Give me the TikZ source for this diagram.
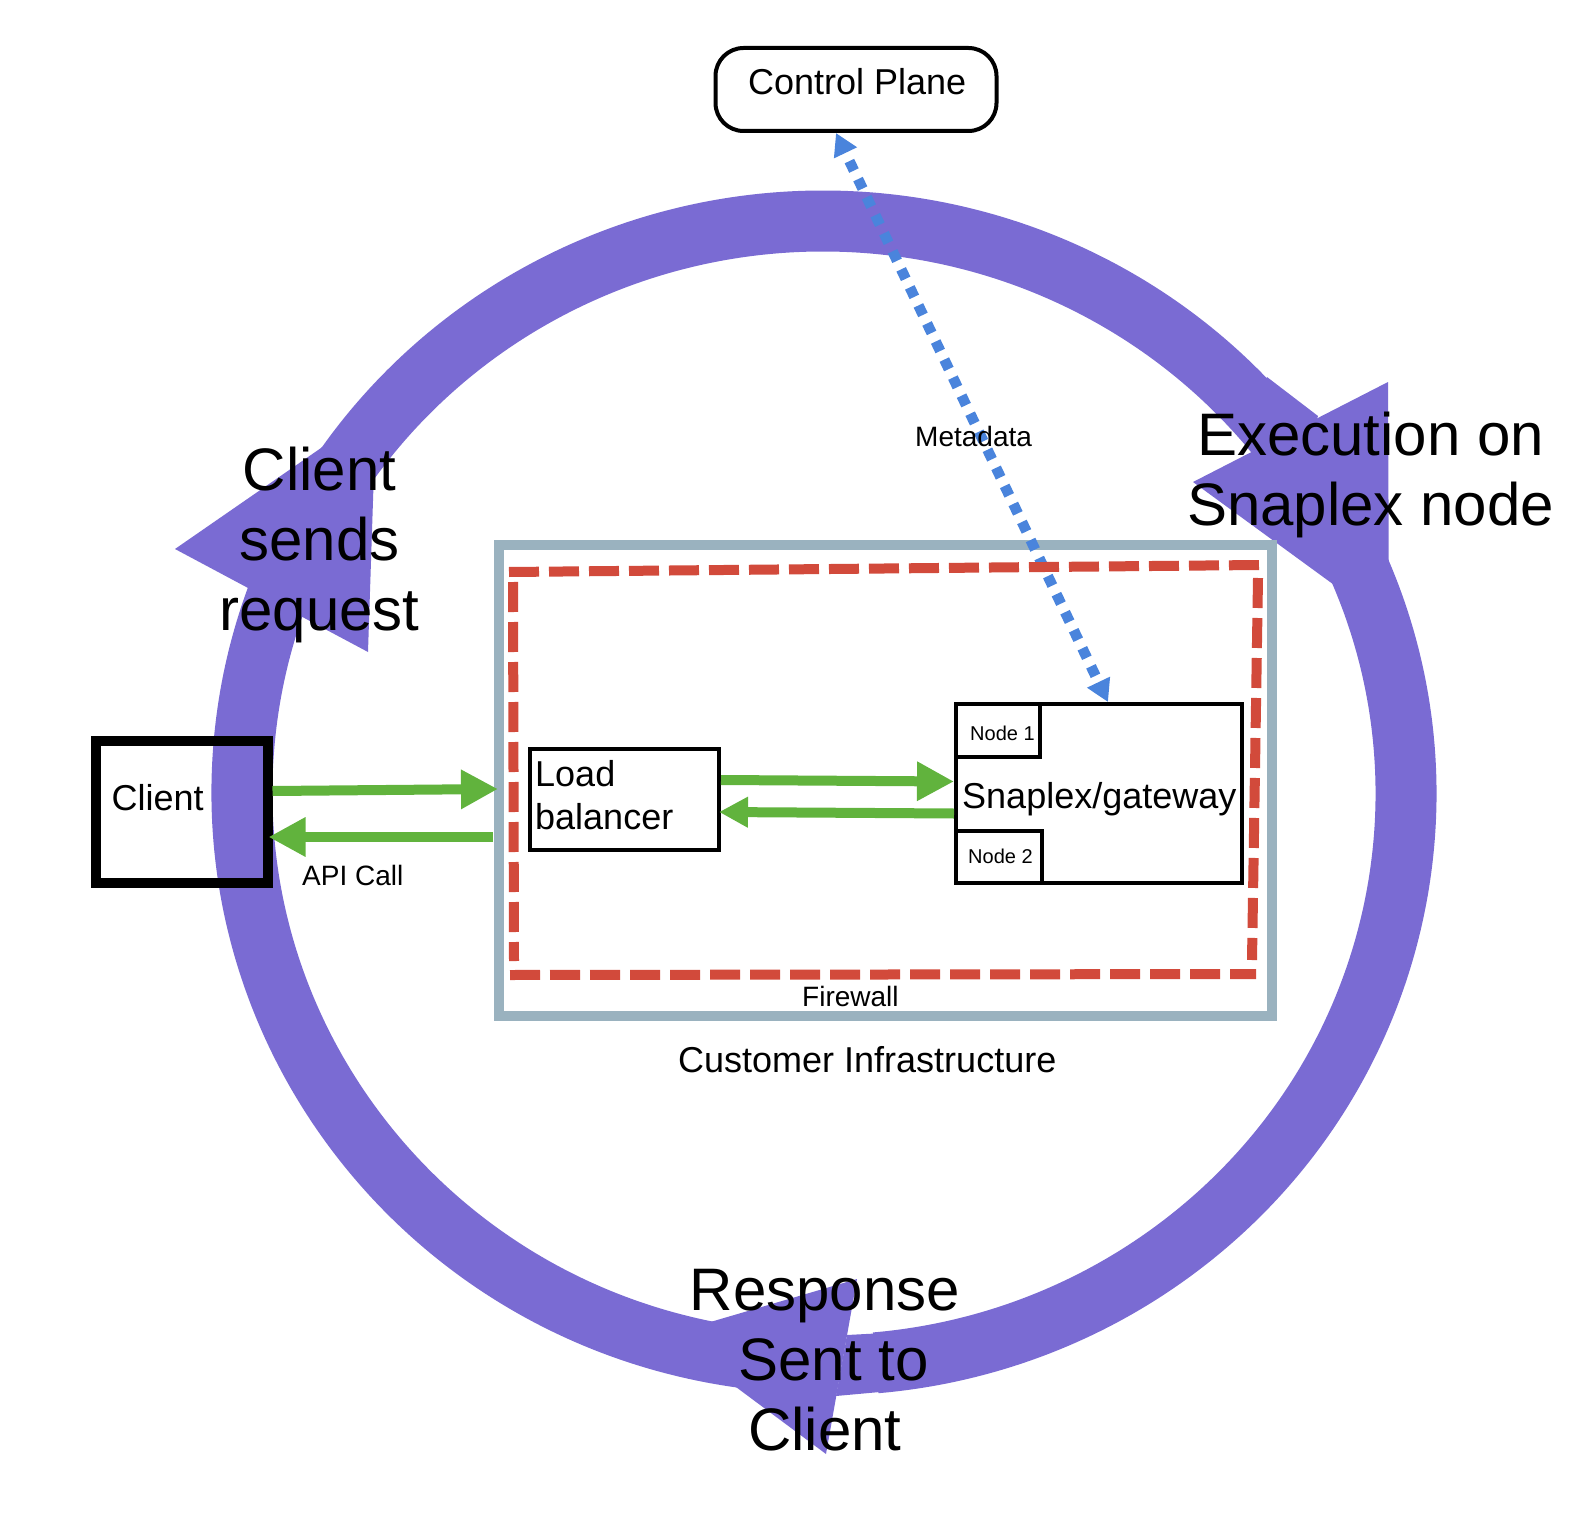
\documentclass[tikz,border=0pt]{standalone}
\usepackage{fontspec}
\setmainfont{Liberation Sans}
\usetikzlibrary{
    calc,
    arrows.meta
}
\definecolor{loopcol}{HTML}{7A6BD3}
\definecolor{flowcol}{HTML}{61B33D}
\definecolor{metacol}{HTML}{4A84DC}
\definecolor{wallcol}{HTML}{D24A3B}
\definecolor{infracol}{HTML}{9AB2BF}
\newcommand{\txtsize}[1]{\fontsize{#1}{#1}\selectfont}
\begin{document}
\begin{tikzpicture}[
            x=1pt, y=-1pt,
            box/.style={draw=black, line width=#1, rectangle, inner sep=0pt},
            box/.default=4pt,
            loop arc/.style={draw=loopcol, line width=61pt},
            loop head/.style={fill=loopcol, draw=none},
            flow/.style={draw=flowcol, line width=10pt, -{Triangle[length=#1, width=#1]}},
            flow/.default=37pt,
            wall/.style={draw=wallcol, line width=10pt, dash pattern=on 30pt off 10pt},
            small text/.style={inner sep=0pt, anchor=base west, font=\txtsize{28}},
            mid text/.style={inner sep=0pt, anchor=base west, font=\txtsize{36}},
            big text/.style={inner sep=0pt, anchor=base, align=center, font=\fontsize{60}{69.7}\selectfont}
        ]
        \useasboundingbox (0,0) rectangle (1596,1514);

        % the big loop
        \coordinate (hub) at (823,792);
        \coordinate (hubB) at (825,794);
        \draw [loop arc] (hub) ++(146:581pt and 571pt) arc [start angle=146, end angle=35, x radius=581pt, y radius=571pt];
        \draw [loop arc] (hubB) ++(36:581pt and 571pt) arc [start angle=36, end angle=-85, x radius=581pt, y radius=571pt];
        \draw [loop arc] (hub) ++(-98:581pt and 571pt) arc [start angle=-98, end angle=-215, x radius=581pt, y radius=571pt];
        \fill [loop head] (376,410) -- (175,549) -- (368,652) -- cycle;
        \fill [loop head] (1388,382) -- (1193,482) -- (1389,625) -- cycle;
        \fill [loop head] (1267,377) -- (1318,416) -- (1300,470) -- (1240,430) -- cycle;
        \fill [loop head] (857,1279) -- (826,1454) -- (666,1335) -- cycle;
        \fill [loop head] (847,1335) -- (885,1333) -- (880,1392) -- (836,1396) -- cycle;

        % customer side
        \node (infra) [box=10pt, draw=infracol, minimum width=773pt, minimum height=471pt] at (885.5,780.5) {};

        \node (ctrl) [box, rounded corners=28pt, minimum width=281pt, minimum height=83pt] at (856,89.5) {};
        \node (snaplex) [box, minimum width=286pt, minimum height=179pt] at (1099,793.5) {};
        \draw [draw=metacol, line width=10.5pt, dash pattern=on 10.5pt off 9.5pt, dash phase=9.5pt, {Triangle[length=22pt, width=24pt]}-{Triangle[length=22pt, width=24pt]}]
            ([xshift=-20pt]ctrl.south) -- ([xshift=9pt]snaplex.north);

        \draw [wall] (509,572) -- (1259,565);
        \draw [wall] (1258,578) -- (1252,960);
        \draw [wall] (510,975) -- (1256,974);
        \draw [wall] (513,582) -- (514,961);

        \node (client) [box=10pt, minimum width=172pt, minimum height=142pt] at (181.5,811.5) {};
        \node (lb) [box, minimum width=189pt, minimum height=101pt] at (624.5,799.5) {};
        \node (node1) [box, minimum width=84pt, minimum height=53pt] at (998,730.5) {};
        \node (node2) [box, minimum width=86pt, minimum height=52pt] at (999,857) {};

        \draw [flow] ([yshift=20.5pt]client.east) -- ([xshift=4pt, yshift=-8.5pt]infra.west);
        \draw [flow] ([xshift=-1pt, yshift=-56.5pt]infra.west) -- ([xshift=-4pt, yshift=-25.5pt]client.east);
        \draw [flow] ([yshift=19.5pt]lb.east) -- ([yshift=12pt]snaplex.west);
        \draw [flow=29pt] ([yshift=-20pt]snaplex.west) -- ([xshift=-2pt, yshift=-12.5pt]lb.east);

        % labels
        \node (ctrltxt) [mid text] at (748,95) {Control Plane};
        \node (clienttxt) [mid text] at (111.5,810) {Client};
        \node (lbtxt) [mid text, align=left, font=\fontsize{36}{43}\selectfont, anchor=north west] at (535,760) {Load\\balancer};
        \node (snaplextxt) [mid text] at (962,808) {Snaplex/gateway};
        \node (infratxt) [mid text] at (678,1072) {Customer Infrastructure};
        \node (node1txt) [inner sep=0pt, anchor=base west, font=\txtsize{20}] at (970,740) {Node 1};
        \node (node2txt) [inner sep=0pt, anchor=base west, font=\txtsize{20}] at (968,863) {Node 2};
        \node (apitxt) [small text] at (302,885) {API Call};
        \node (metatxt) [small text] at (915,446) {Metadata};
        \node (walltxt) [small text] at (802,1006) {Firewall};
        \node (sendtxt) [big text] at (319.5,630) {Client\\sends\\request};
        \node (exectxt) [big text] at (1370.5,525) {Execution on\\Snaplex node};
        \node (resptxt) [big text] at (825,1450) {Response\\\hspace*{17pt}Sent to\\Client};
    \end{tikzpicture}
\end{document}
